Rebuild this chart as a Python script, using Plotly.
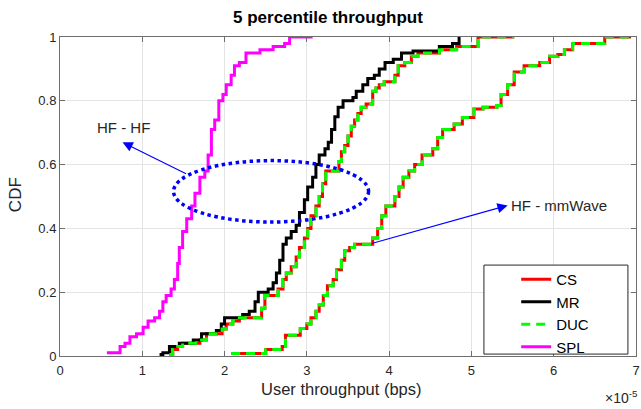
import plotly.graph_objects as go

# ---- data (x in units of 1e-5 bps, y = CDF) ----
spl_x = [0.57, 0.73, 0.79, 0.85, 0.93, 1.01, 1.07, 1.15, 1.21, 1.25, 1.29, 1.35, 1.39, 1.43, 1.45, 1.49,
         1.54, 1.60, 1.64, 1.70, 1.76, 1.80, 1.84, 1.88, 1.93, 1.98, 2.02, 2.08, 2.12, 2.18, 2.26, 2.43,
         2.59, 2.73, 2.79, 3.07]
spl_y = [0.01, 0.03, 0.04, 0.06, 0.07, 0.09, 0.11, 0.12, 0.14, 0.17, 0.19, 0.21, 0.24, 0.29, 0.34, 0.39,
         0.43, 0.47, 0.51, 0.56, 0.58, 0.63, 0.71, 0.74, 0.80, 0.82, 0.85, 0.88, 0.91, 0.92, 0.95, 0.96,
         0.97, 0.98, 1.0, 1.0]

mr_x = [1.21, 1.25, 1.33, 1.45, 1.62, 1.72, 1.90, 1.96, 2.00, 2.22, 2.30, 2.37, 2.41, 2.53, 2.59, 2.63,
        2.67, 2.71, 2.75, 2.81, 2.87, 2.91, 2.97, 3.01, 3.07, 3.11, 3.15, 3.22, 3.26, 3.30, 3.34, 3.38,
        3.44, 3.56, 3.60, 3.68, 3.74, 3.82, 3.88, 3.95, 4.05, 4.15, 4.29, 4.61, 4.77, 4.85]
mr_y = [0.005, 0.01, 0.03, 0.04, 0.05, 0.07, 0.08, 0.10, 0.12, 0.13, 0.14, 0.17, 0.20, 0.21, 0.23, 0.26,
        0.30, 0.35, 0.37, 0.39, 0.41, 0.45, 0.49, 0.53, 0.56, 0.60, 0.63, 0.65, 0.67, 0.71, 0.75, 0.78,
        0.80, 0.81, 0.83, 0.85, 0.87, 0.88, 0.90, 0.92, 0.93, 0.95, 0.956, 0.97, 0.98, 1.0]

# CS and DUC coincide; HF-HF scenario
hfhf_x = [1.33, 1.37, 1.43, 1.49, 1.70, 1.78, 1.97, 2.02, 2.10, 2.18, 2.45, 2.49, 2.65, 2.71, 2.75, 2.81,
          2.87, 2.91, 2.97, 3.01, 3.05, 3.11, 3.15, 3.19, 3.23, 3.39, 3.42, 3.46, 3.50, 3.54, 3.58, 3.62,
          3.66, 3.72, 3.80, 3.84, 3.88, 3.94, 4.07, 4.11, 4.19, 4.27, 4.35, 4.61, 4.82, 5.08, 5.52]
hfhf_y = [0.005, 0.02, 0.03, 0.04, 0.05, 0.07, 0.085, 0.10, 0.11, 0.12, 0.15, 0.19, 0.21, 0.24, 0.26, 0.28,
          0.31, 0.34, 0.37, 0.40, 0.44, 0.47, 0.50, 0.54, 0.58, 0.61, 0.64, 0.66, 0.69, 0.72, 0.74, 0.76,
          0.78, 0.79, 0.83, 0.84, 0.85, 0.86, 0.88, 0.91, 0.92, 0.94, 0.95, 0.96, 0.97, 1.0, 1.0]

# CS and DUC coincide; HF-mmWave scenario
hfmm_x = [2.08, 2.50, 2.70, 2.74, 2.92, 3.00, 3.05, 3.11, 3.15, 3.20, 3.25, 3.32, 3.36, 3.42, 3.46, 3.52,
          3.58, 3.80, 3.86, 3.91, 3.96, 4.07, 4.12, 4.17, 4.24, 4.31, 4.40, 4.53, 4.59, 4.65, 4.79, 4.89,
          5.03, 5.14, 5.31, 5.36, 5.44, 5.52, 5.64, 5.83, 5.95, 6.05, 6.13, 6.23, 6.62, 6.94]
hfmm_y = [0.008, 0.02, 0.03, 0.065, 0.086, 0.10, 0.12, 0.14, 0.16, 0.19, 0.22, 0.24, 0.27, 0.30, 0.33, 0.34,
          0.35, 0.37, 0.40, 0.44, 0.47, 0.50, 0.53, 0.56, 0.58, 0.60, 0.63, 0.65, 0.685, 0.71, 0.727, 0.748,
          0.774, 0.78, 0.785, 0.82, 0.85, 0.89, 0.91, 0.92, 0.94, 0.945, 0.96, 0.98, 1.0, 1.0]

x_ticks = [0, 1, 2, 3, 4, 5, 6, 7]
y_ticks = [0, 0.2, 0.4, 0.6, 0.8, 1]
y_ticktext = ["0", "0.2", "0.4", "0.6", "0.8", "1"]

FONT = "Liberation Sans, Arial, sans-serif"
TXT = "#262626"
LW = 3

fig = go.Figure()

def add(x, y, name, color, dash="solid", show=True):
    fig.add_trace(go.Scatter(x=x, y=y, mode="lines", name=name, line_shape="hv",
                             line=dict(color=color, width=LW, dash=dash), showlegend=show))

add(hfhf_x, hfhf_y, "CS", "#ff0000")
add(hfmm_x, hfmm_y, "CS", "#ff0000", show=False)
add(mr_x, mr_y, "MR", "#000000")
add(hfhf_x, hfhf_y, "DUC", "#00ff00", dash="9px,6px")
add(hfmm_x, hfmm_y, "DUC", "#00ff00", dash="9px,6px", show=False)
add(spl_x, spl_y, "SPL", "#ff00ff")

# ellipse
fig.add_shape(type="circle", xref="x", yref="y", x0=1.38, x1=3.75, y0=0.42, y1=0.6125,
              line=dict(color="#0000ff", width=3.5, dash="dot"))

# legend box
fig.add_shape(type="rect", xref="paper", yref="paper", x0=0.736, x1=0.986, y0=0.006, y1=0.285,
              line=dict(color=TXT, width=1), fillcolor="white", layer="above")

# arrows
fig.add_annotation(x=0.76, y=0.67, ax=1.55, ay=0.569, xref="x", yref="y", axref="x", ayref="y",
                   showarrow=True, arrowhead=2, arrowsize=1.7, arrowwidth=1.2, arrowcolor="#0000ff", text="")
fig.add_annotation(x=5.44, y=0.472, ax=3.78, ay=0.352, xref="x", yref="y", axref="x", ayref="y",
                   showarrow=True, arrowhead=2, arrowsize=1.7, arrowwidth=1.2, arrowcolor="#0000ff", text="")
fig.add_annotation(x=0.77, y=0.715, xref="x", yref="y", text="HF - HF", showarrow=False,
                   font=dict(family=FONT, size=15, color=TXT))
fig.add_annotation(x=5.46, y=0.472, xref="x", yref="y", text="HF - mmWave", showarrow=False,
                   xanchor="left", font=dict(family=FONT, size=15, color=TXT))

# title and axis titles
fig.add_annotation(x=0.465, y=1.06, xref="paper", yref="paper", text="<b>5 percentile throughput</b>",
                   showarrow=False, xanchor="center", yanchor="middle",
                   font=dict(family=FONT, size=17, color="#000000"))
fig.add_annotation(x=0.488, y=-0.104, xref="paper", yref="paper", text="User throughput (bps)",
                   showarrow=False, xanchor="center", yanchor="middle",
                   font=dict(family=FONT, size=16.5, color=TXT))
fig.add_annotation(x=-0.076, y=0.505, xref="paper", yref="paper", text="CDF", textangle=-90,
                   showarrow=False, xanchor="center", yanchor="middle",
                   font=dict(family=FONT, size=17, color=TXT))

# exponent label
fig.add_annotation(x=1.007, y=-0.13, xref="paper", yref="paper", text="×10<sup>-5</sup>",
                   showarrow=False, xanchor="right", yanchor="middle",
                   font=dict(family=FONT, size=14, color=TXT))

axis_common = dict(showline=True, linecolor="#6e6e6e", linewidth=1, mirror="ticks",
                   ticks="inside", ticklen=5, tickcolor="#6e6e6e", automargin=False,
                   showgrid=True, gridcolor="#e3e3e3", gridwidth=1, zeroline=False,
                   tickfont=dict(family=FONT, size=13, color=TXT))

fig.update_xaxes(range=[0, 7], tickvals=x_ticks, ticktext=[str(v) for v in x_ticks],
                 ticklabelstandoff=2, **axis_common)
fig.update_yaxes(range=[0, 1], tickvals=y_ticks, ticktext=y_ticktext, **axis_common)

fig.update_layout(
    width=641, height=409,
    margin=dict(l=60, r=5, t=37, b=53, autoexpand=False),
    paper_bgcolor="white", plot_bgcolor="white",
    legend=dict(x=0.792, y=0.2915, xanchor="left", yanchor="top", bgcolor="rgba(0,0,0,0)",
                borderwidth=0, itemwidth=30, tracegroupgap=0,
                font=dict(family=FONT, size=15, color="#000000")),
    showlegend=True,
)

fig.write_html("out.html", config={"displayModeBar": False},
               post_script="document.body.style.margin='0';")
